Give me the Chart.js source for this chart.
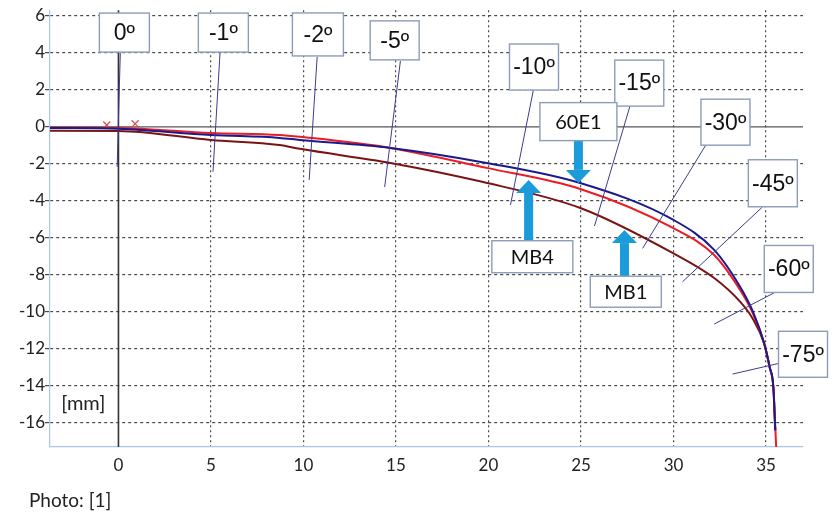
<!DOCTYPE html>
<html>
<head>
<meta charset="utf-8">
<script src="https://cdn.jsdelivr.net/npm/chart.js@4.4.1/dist/chart.umd.min.js"></script>
<style>
  body { margin: 0; background: #fff; }
  #wrap { width: 835px; height: 512px; }
</style>
</head>
<body>
<div id="wrap"><canvas id="myChart" width="835" height="512"></canvas></div>
<script>
// curve readings, x in mm along the surface, y in mm
const x60E1 = [-3.7, 0, 5, 8.7, 9.8, 14.7, 19.9, 25, 30, 32.2, 33.6, 34.3, 34.9, 35.2, 35.4, 35.5];
const y60E1 = [-0.06, -0.11, -0.44, -0.6, -0.71, -1.14, -1.95, -3.05, -5.03, -6.65, -8.64, -10.0, -11.7, -13.0, -14.1, -16.4];

const xMB4 = [-3.7, 0, 5, 8.7, 9.8, 14.7, 19.9, 25, 30, 32.2, 33.6, 34.3, 34.9, 35.2, 35.4, 35.55];
const yMB4 = [-0.04, -0.06, -0.33, -0.44, -0.54, -1.14, -2.22, -3.37, -5.48, -6.93, -8.82, -10.1, -11.7, -13.0, -14.1, -17.3];

const xMB1 = [-3.7, 0, 5, 8.7, 9.8, 14.7, 19.6, 25, 30, 32.2, 33.6, 34.3, 34.9, 35.2, 35.4, 35.5];
const yMB1 = [-0.21, -0.22, -0.71, -0.98, -1.19, -1.95, -2.96, -4.4, -6.84, -8.17, -9.45, -10.4, -11.7, -13.0, -14.1, -16.4];

const xMarks = [-0.63, 0.9];
const yMarks = [0.1, 0.16];

const xTicks = [0, 5, 10, 15, 20, 25, 30, 35];
const yTicks = [6, 4, 2, 0, -2, -4, -6, -8, -10, -12, -14, -16];

// angle callouts: text, box centre (data), leader line from -> to (data)
const angleLabels = ["0º", "-1º", "-2º", "-5º", "-10º", "-15º", "-30º", "-45º", "-60º", "-75º"];
const angleBoxX = [0.32, 5.67, 10.78, 14.93, 22.46, 28.15, 32.81, 35.37, 36.23, 37.0];
const angleBoxY = [5.09, 5.09, 4.99, 4.67, 3.23, 2.36, 0.25, -3.05, -7.68, -12.29];
const leadFromX = [0.10, 5.49, 10.74, 15.24, 22.43, 27.65, 31.75, 34.81, 35.44, 35.66];
const leadFromY = [4.0, 4.0, 3.78, 3.56, 2.0, 1.13, -0.98, -4.33, -8.97, -12.79];
const leadToX = [-0.07, 5.11, 10.31, 14.39, 21.19, 25.73, 28.33, 30.49, 32.2, 33.19];
const leadToY = [-2.16, -2.43, -2.87, -3.25, -4.22, -5.36, -6.57, -8.37, -10.66, -13.36];

// series name boxes with arrows
const nameLabels = ["60E1", "MB4", "MB1"];
const nameBoxX = [24.86, 22.37, 27.42];
const nameBoxY = [0.28, -7.02, -8.91];
const arrowX = [24.86, 22.17, 27.35];
const arrowFromY = [-0.76, -6.12, -8.06];
const arrowTipY = [-3.03, -2.87, -5.58];

function pts(xs, ys) {
  return xs.map((x, i) => ({ x: x, y: ys[i] }));
}

const boxSizes = [[50, 39], [50, 39], [51, 43], [49, 39], [49, 46], [49, 46], [49, 46], [49, 47], [49, 47], [49, 46]];
const nameSizes = [[77, 38], [81, 32], [71, 31]];

const overlay = {
  id: "overlay",
  beforeDatasetsDraw(chart) {
    const c = chart.ctx, xs = chart.scales.x, ys = chart.scales.y, a = chart.chartArea;
    c.save();
    c.strokeStyle = "#555";
    c.lineWidth = 1.3;
    c.beginPath();
    const y0 = ys.getPixelForValue(0);
    c.moveTo(a.left, y0); c.lineTo(a.right, y0);
    c.stroke();
    c.strokeStyle = "#333";
    c.lineWidth = 1.6;
    c.beginPath();
    const x0 = xs.getPixelForValue(0);
    c.moveTo(x0, a.top); c.lineTo(x0, a.bottom);
    c.stroke();
    c.restore();
  },
  afterDatasetsDraw(chart) {
    const c = chart.ctx, xs = chart.scales.x, ys = chart.scales.y;
    const px = v => xs.getPixelForValue(v), py = v => ys.getPixelForValue(v);
    c.save();
    // leader lines
    c.strokeStyle = "#3c3c90";
    c.lineWidth = 1;
    angleLabels.forEach((t, i) => {
      c.beginPath();
      c.moveTo(px(leadFromX[i]), py(leadFromY[i]));
      c.lineTo(px(leadToX[i]), py(leadToY[i]));
      c.stroke();
    });
    // arrows
    c.fillStyle = "#1b9bd8";
    nameLabels.forEach((t, i) => {
      const x = px(arrowX[i]), y1 = py(arrowFromY[i]), y2 = py(arrowTipY[i]);
      const dir = y2 > y1 ? 1 : -1;
      const head = 13;
      c.fillRect(x - 4.5, Math.min(y1, y2 - dir * head), 9, Math.abs(y2 - dir * head - y1));
      c.beginPath();
      c.moveTo(x - 12.5, y2 - dir * head);
      c.lineTo(x + 12.5, y2 - dir * head);
      c.lineTo(x, y2);
      c.closePath();
      c.fill();
    });
    // boxes
    const drawBox = (txt, cx, cy, w, h, font) => {
      c.fillStyle = "#fff";
      c.fillRect(cx - w / 2, cy - h / 2, w, h);
      c.strokeStyle = "#8e9cb8";
      c.lineWidth = 1.4;
      c.strokeRect(cx - w / 2, cy - h / 2, w, h);
      c.fillStyle = "#111";
      c.font = font;
      c.textAlign = "center";
      c.textBaseline = "middle";
      c.fillText(txt, cx, cy + 1);
    };
    angleLabels.forEach((t, i) => {
      drawBox(t, px(angleBoxX[i]), py(angleBoxY[i]), boxSizes[i][0], boxSizes[i][1], "23px 'Liberation Sans', Arial");
    });
    nameLabels.forEach((t, i) => {
      drawBox(t, px(nameBoxX[i]), py(nameBoxY[i]), nameSizes[i][0], nameSizes[i][1], "20px Lato, 'Open Sans'");
    });
    // unit label
    c.fillStyle = "#222";
    c.font = "20px Lato";
    c.textAlign = "center";
    c.textBaseline = "middle";
    c.fillText("[mm]", px(-1.9), py(-14.93));
    c.restore();
  },
  afterDraw(chart) {
    const c = chart.ctx;
    c.save();
    c.fillStyle = "#222";
    c.font = "19px Lato";
    c.textAlign = "left";
    c.textBaseline = "middle";
    c.fillText("Photo: [1]", 29, 501);
    c.restore();
  }
};

const gridColor = ctx => (ctx.tick && ctx.tick.value === 0) ? "rgba(0,0,0,0)" : "#4a4a4a";

new Chart(document.getElementById("myChart"), {
  type: "scatter",
  data: {
    datasets: [
      {
        label: "60E1",
        data: pts(x60E1, y60E1),
        showLine: true,
        borderColor: "#1a1a8c",
        borderWidth: 2,
        pointRadius: 0,
        cubicInterpolationMode: "monotone"
      },
      {
        label: "MB4",
        data: pts(xMB4, yMB4),
        showLine: true,
        borderColor: "#ec1c24",
        borderWidth: 2,
        pointRadius: 0,
        cubicInterpolationMode: "monotone"
      },
      {
        label: "MB1",
        data: pts(xMB1, yMB1),
        showLine: true,
        borderColor: "#7a1414",
        borderWidth: 2,
        pointRadius: 0,
        cubicInterpolationMode: "monotone"
      },
      {
        label: "marks",
        data: pts(xMarks, yMarks),
        showLine: false,
        pointStyle: "crossRot",
        pointRadius: 5,
        borderColor: "#d9534f",
        borderWidth: 1.3
      }
    ]
  },
  options: {
    responsive: false,
    animation: false,
    layout: { padding: { top: 10, right: 32, left: 0, bottom: 0 } },
    plugins: { legend: { display: false }, tooltip: { enabled: false } },
    scales: {
      x: {
        type: "linear",
        min: -3.7,
        max: 37,
        afterBuildTicks: s => { s.ticks = xTicks.map(v => ({ value: v })); },
        afterFit: s => { s.height = 65; },
        ticks: { font: { family: "Lato", size: 17 }, color: "#222", padding: 3, includeBounds: false },
        grid: { color: gridColor, lineWidth: 1.2, tickLength: 5, tickColor: "rgba(0,0,0,0)" },
        border: { color: "#a9c6e6", width: 1.2, dash: [2, 3] }
      },
      y: {
        type: "linear",
        min: -17.3,
        max: 6.3,
        afterBuildTicks: s => { s.ticks = yTicks.map(v => ({ value: v })); },
        afterFit: s => { s.width = 50; },
        ticks: { font: { family: "Lato", size: 17 }, color: "#222", padding: 0, includeBounds: false },
        grid: { color: gridColor, lineWidth: 1.2, tickLength: 5, tickColor: "#4a4a4a" },
        border: { color: "#a9c6e6", width: 1.2, dash: [3, 3] }
      }
    }
  },
  plugins: [overlay]
});
</script>
</body>
</html>
